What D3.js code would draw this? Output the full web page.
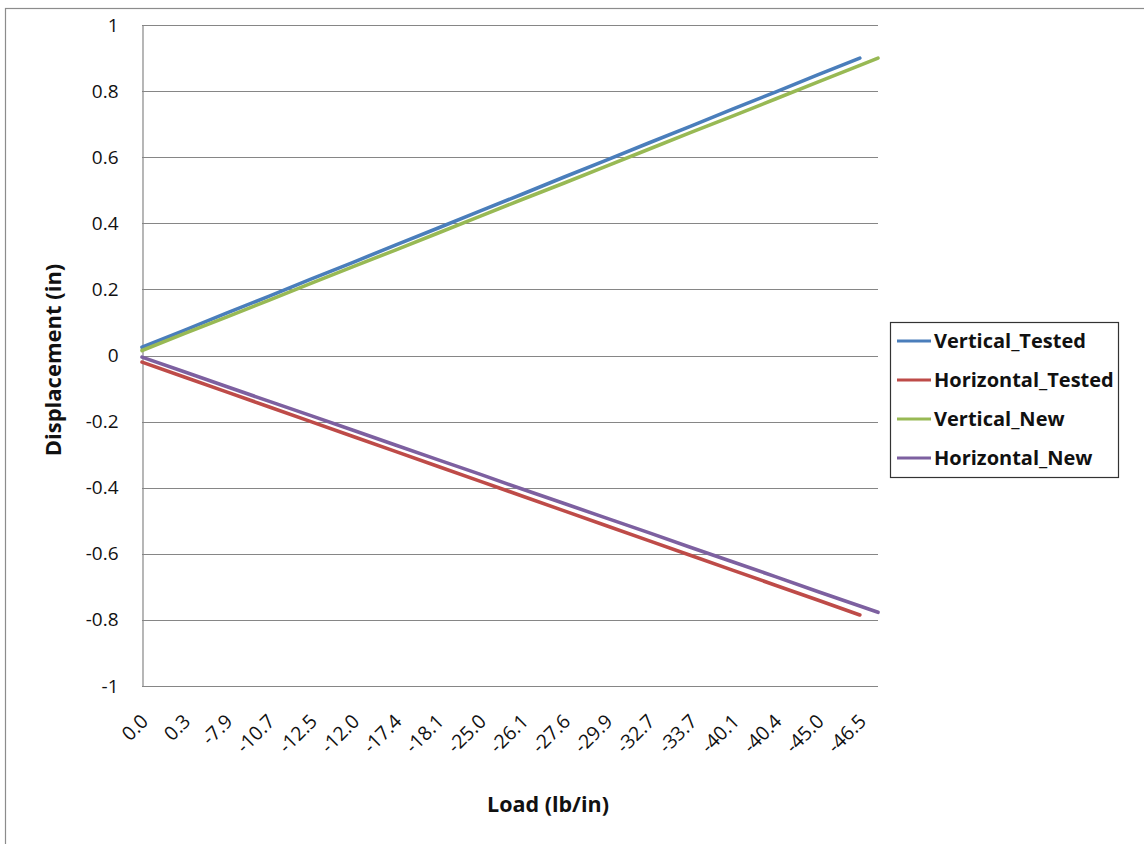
<!DOCTYPE html>
<html>
<head>
<meta charset="utf-8">
<script src="https://cdn.jsdelivr.net/npm/d3@7"></script>
<style>
  html, body { margin: 0; padding: 0; background: #fff; }
  svg { display: block; }
  text { font-family: "Open Sans", Lato, sans-serif; }
</style>
</head>
<body>
<svg id="chart" width="1144" height="844"></svg>
<script>
// ---- data ----
const loadLabels = ["0.0","0.3","-7.9","-10.7","-12.5","-12.0","-17.4","-18.1","-25.0","-26.1","-27.6","-29.9","-32.7","-33.7","-40.1","-40.4","-45.0","-46.5"];
// position (in label steps) of the last point of the "New" series
const newEndIndex = 17.43;
const verticalTested   = [0.025,0.076,0.128,0.179,0.231,0.282,0.334,0.385,0.437,0.488,0.540,0.591,0.643,0.694,0.746,0.797,0.849,0.900];
const horizontalTested = [-0.02,-0.065,-0.11,-0.155,-0.20,-0.245,-0.29,-0.335,-0.38,-0.425,-0.47,-0.515,-0.56,-0.605,-0.65,-0.695,-0.74,-0.785];
const verticalNew      = [0.015,0.066,0.116,0.167,0.218,0.269,0.319,0.370,0.421,0.472,0.522,0.573,0.624,0.675,0.725,0.776,0.827,0.878,0.90];
const horizontalNew    = [-0.005,-0.049,-0.094,-0.138,-0.182,-0.226,-0.271,-0.315,-0.359,-0.404,-0.448,-0.492,-0.536,-0.581,-0.625,-0.669,-0.714,-0.758,-0.777];
const yTicks = [1,0.8,0.6,0.4,0.2,0,-0.2,-0.4,-0.6,-0.8,-1];
const seriesNames  = ["Vertical_Tested","Horizontal_Tested","Vertical_New","Horizontal_New"];
const seriesColors = ["#4a7ebb","#be4b48","#98b954","#7d60a0"];

// ---- layout ----
const svg = d3.select("#chart");
const plot = {left: 142, top: 25, right: 878, bottom: 686};

// outer border
svg.append("rect").attr("x", 5.5).attr("y", 8.5).attr("width", 1200).attr("height", 900)
  .attr("fill", "#fff").attr("stroke", "#8c8c8c").attr("stroke-width", 1.2);

const x = d3.scaleLinear().domain([0, newEndIndex]).range([plot.left, plot.right]);
const y = d3.scaleLinear().domain([-1, 1]).range([plot.bottom, plot.top]);

// gridlines
svg.append("g").selectAll("line").data(yTicks.filter(d => d !== -1)).join("line")
  .attr("x1", plot.left).attr("x2", plot.right)
  .attr("y1", d => Math.round(y(d)) + 0.5).attr("y2", d => Math.round(y(d)) + 0.5)
  .attr("stroke", "#868686").attr("stroke-width", 1.2);

// y axis
const yAxis = d3.axisLeft(y).tickValues(yTicks).tickSize(0).tickPadding(24).tickFormat(d => String(d));
const gy = svg.append("g").attr("transform", `translate(${plot.left + 0.5},0)`).call(yAxis);
gy.select(".domain").attr("stroke", "#868686").attr("stroke-width", 1.2);
gy.selectAll("text").attr("font-size", 19).attr("fill", "#111").attr("font-family", "'Open Sans', sans-serif");

// x axis
const xAxis = d3.axisBottom(x).tickValues(d3.range(loadLabels.length)).tickSize(0)
  .tickFormat(i => loadLabels[i]);
const gx = svg.append("g").attr("transform", `translate(0,${Math.round(y(-1)) + 0.5})`).call(xAxis);
gx.select(".domain").remove();
gx.append("line").attr("x1", plot.left).attr("x2", plot.right).attr("stroke", "#868686").attr("stroke-width", 1.2);
gx.selectAll(".tick text")
  .attr("font-size", 19.5).attr("fill", "#111").attr("font-family", "'Open Sans', sans-serif")
  .attr("text-anchor", "end").attr("dy", 0).attr("y", 0)
  .attr("transform", "translate(7,36) rotate(-45)");

// lines
const line = d3.line().x(d => x(d.i)).y(d => y(d.v));
const seriesData = [verticalTested, horizontalTested, verticalNew, horizontalNew];
const drawOrder = [0, 2, 1, 3];
drawOrder.forEach(k => {
  const pts = seriesData[k].map((v, i) => ({i: i < loadLabels.length ? i : newEndIndex, v}));
  svg.append("path").datum(pts).attr("d", line)
    .attr("fill", "none").attr("stroke", seriesColors[k]).attr("stroke-width", 3.6)
    .attr("stroke-linecap", "round").attr("stroke-linejoin", "round");
});

// axis titles
svg.append("text").attr("x", 548).attr("y", 812).attr("text-anchor", "middle")
  .attr("font-size", 21.5).attr("font-weight", "bold").attr("fill", "#111").text("Load (lb/in)");
svg.append("text").attr("transform", "translate(61,360) rotate(-90)").attr("text-anchor", "middle")
  .attr("font-size", 22).attr("font-weight", "bold").attr("fill", "#111").text("Displacement (in)");

// legend
const lg = svg.append("g");
lg.append("rect").attr("x", 890.5).attr("y", 322.5).attr("width", 228).attr("height", 155)
  .attr("fill", "#fff").attr("stroke", "#333").attr("stroke-width", 1.2);
seriesNames.forEach((name, k) => {
  const yy = 341 + k * 39;
  lg.append("line").attr("x1", 897).attr("x2", 931).attr("y1", yy).attr("y2", yy)
    .attr("stroke", seriesColors[k]).attr("stroke-width", 3);
  lg.append("text").attr("x", 934).attr("y", yy + 7).attr("font-size", 20).attr("font-weight", "bold")
    .attr("fill", "#111").text(name);
});
</script>
</body>
</html>
